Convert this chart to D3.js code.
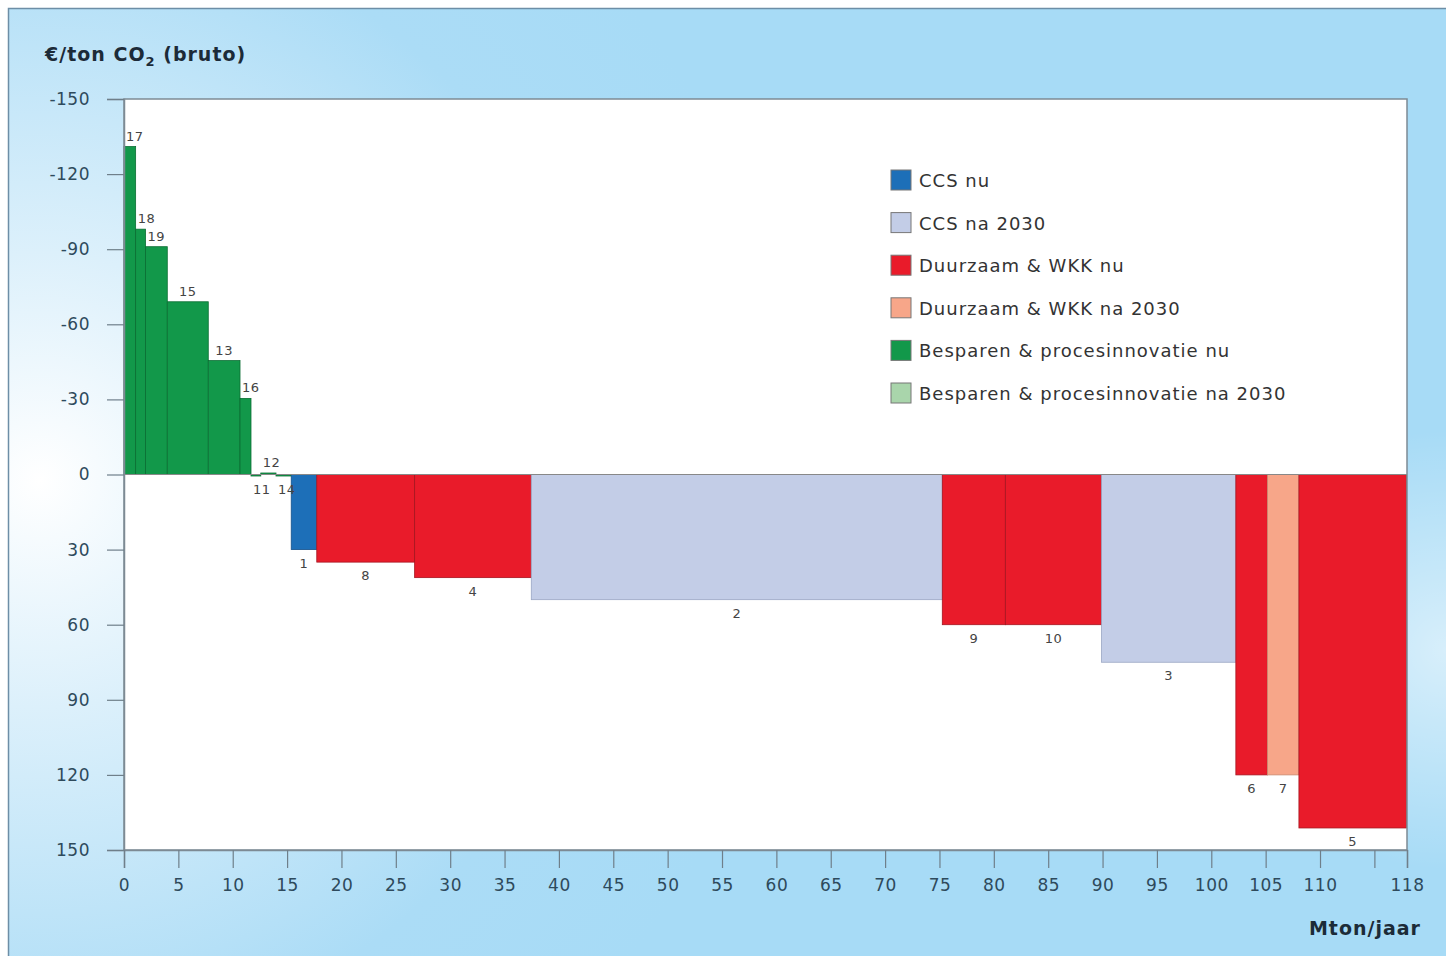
<!DOCTYPE html>
<html><head><meta charset="utf-8">
<script src="https://cdn.jsdelivr.net/npm/d3@7"></script>
<style>
body{margin:0;background:#fff;}
svg{display:block;font-family:"DejaVu Sans",Verdana,sans-serif;}
</style></head>
<body>
<svg id="chart" width="1446" height="956"></svg>
<script>
// ---- data ----
const barIds = ["17","18","19","15","13","16","11","12","14","1","8","4","2","9","10","3","6","7","5"];
const barWidths = [1.07,0.91,2.0,3.77,2.92,1.01,0.9,1.4,1.4,2.35,9.0,10.73,37.8,5.8,8.85,12.35,2.9,2.9,9.9];
const barValues = [-131,-98,-91,-69,-45.5,-30.4,0.6,-0.6,0.6,30,35,41.2,50,60,60,75,120,120,141.2];
const barCategory = [4,4,4,4,4,4,4,4,4,0,2,2,1,2,2,1,2,3,2];
const legendLabels = ["CCS nu","CCS na 2030","Duurzaam & WKK nu","Duurzaam & WKK na 2030","Besparen & procesinnovatie nu","Besparen & procesinnovatie na 2030"];
const yTicks = [-150,-120,-90,-60,-30,0,30,60,90,120,150];
const xTicks = [0,5,10,15,20,25,30,35,40,45,50,55,60,65,70,75,80,85,90,95,100,105,110,115,118];
const xTickLabels = ["0","5","10","15","20","25","30","35","40","45","50","55","60","65","70","75","80","85","90","95","100","105","110","","118"];

// ---- styles ----
const fills = ["#1d6fb8","#c3cde7","#e91b2a","#f7a689","#12984a","#a9d5ab"];
const strokes = ["#17508a","#9aa6c4","#a51520","#c98a70","#0b6e33","#7fa981"];

const svg = d3.select("#chart");
const defs = svg.append("defs");
const g1 = defs.append("radialGradient").attr("id","bg").attr("gradientUnits","userSpaceOnUse")
  .attr("cx",40).attr("cy",480).attr("r",760);
g1.append("stop").attr("offset",0).attr("stop-color","#ffffff");
g1.append("stop").attr("offset",0.3).attr("stop-color","#dcf0fb");
g1.append("stop").attr("offset",0.75).attr("stop-color","#abdcf6");
g1.append("stop").attr("offset",1).attr("stop-color","#a7dbf6");
const g2 = defs.append("radialGradient").attr("id","bg2").attr("gradientUnits","userSpaceOnUse")
  .attr("cx",1446).attr("cy",650).attr("r",220);
g2.append("stop").attr("offset",0).attr("stop-color","#ffffff").attr("stop-opacity",0.55);
g2.append("stop").attr("offset",1).attr("stop-color","#ffffff").attr("stop-opacity",0);

svg.append("rect").attr("x",8).attr("y",8).attr("width",1450).attr("height",960).attr("fill","url(#bg)");
svg.append("rect").attr("x",8).attr("y",8).attr("width",1450).attr("height",960).attr("fill","url(#bg2)");
svg.append("path").attr("d","M8.5,960 V8.5 H1446").attr("fill","none").attr("stroke","#6d8ea6").attr("stroke-width",1.5);

const x = d3.scaleLinear().domain([0,118]).range([124,1407]);
const y = d3.scaleLinear().domain([-150,150]).range([99,850]);

// plot background
svg.append("rect").attr("x",x(0)).attr("y",y(-150)).attr("width",x(118)-x(0)).attr("height",y(150)-y(-150))
  .attr("fill","#ffffff");

// bars
let acc = 0;
const bars = barIds.map((id,i)=>{const b={id,x0:acc,x1:acc+barWidths[i],v:barValues[i],c:barCategory[i]};acc+=barWidths[i];return b;});

svg.append("g").selectAll("rect").data(bars).join("rect")
  .attr("x",d=>x(d.x0)).attr("width",d=>x(d.x1)-x(d.x0))
  .attr("y",d=>Math.min(y(0),y(d.v))).attr("height",d=>Math.abs(y(d.v)-y(0)))
  .attr("fill",d=>fills[d.c]).attr("stroke",d=>strokes[d.c]).attr("stroke-width",0.8);

// bar labels
svg.append("g").selectAll("text").data(bars).join("text")
  .attr("x",d=> (x(d.x1)-x(d.x0) < 22) ? x(d.x0)+2 : (x(d.x0)+x(d.x1))/2)
  .attr("text-anchor",d=> (x(d.x1)-x(d.x0) < 22) ? "start" : "middle")
  .attr("y",d=> d.v<0 ? y(d.v)-6 : y(d.v)+18)
  .attr("font-size",13).attr("letter-spacing",0.5).attr("fill","#444")
  .text(d=>d.id);

// plot frame
svg.append("rect").attr("x",x(0)).attr("y",y(-150)).attr("width",x(118)-x(0)).attr("height",y(150)-y(-150))
  .attr("fill","none").attr("stroke","#7d8a94").attr("stroke-width",1.5);
svg.append("line").attr("x1",x(0)).attr("x2",x(118)).attr("y1",y(0)).attr("y2",y(0)).attr("stroke","#888").attr("stroke-width",1);

// axes
const yAxis = svg.append("g").attr("transform",`translate(${x(0)},0)`)
  .call(d3.axisLeft(y).tickValues(yTicks).tickSize(17).tickPadding(17).tickFormat(d=>String(d)));
const xAxis = svg.append("g").attr("transform",`translate(0,${y(150)})`)
  .call(d3.axisBottom(x).tickValues(xTicks).tickSize(18).tickPadding(11).tickFormat((d,i)=>xTickLabels[i]));
[yAxis,xAxis].forEach(a=>{
  a.select(".domain").attr("stroke","#7d8a94").attr("stroke-width",1.5);
  a.selectAll(".tick line").attr("stroke","#6f7f8a").attr("stroke-width",1.2);
  a.selectAll(".tick text").attr("font-family","'DejaVu Sans',Verdana,sans-serif").attr("font-size",17).attr("letter-spacing",0.5).attr("fill","#2e4a5c");
});

// titles
const t = svg.append("text").attr("x",45).attr("y",61).attr("font-size",19).attr("letter-spacing",1).attr("font-weight","bold").attr("fill","#1c2b38");
t.append("tspan").text("€/ton CO");
t.append("tspan").attr("font-size",13).attr("dy",5).text("2");
t.append("tspan").attr("dy",-5).text(" (bruto)");
svg.append("text").attr("x",1421).attr("y",935).attr("text-anchor","end").attr("font-size",19).attr("letter-spacing",1).attr("font-weight","bold").attr("fill","#1c2b38").text("Mton/jaar");

// legend
const lg = svg.append("g").selectAll("g").data(legendLabels).join("g")
  .attr("transform",(d,i)=>`translate(891,${170+i*42.6})`);
lg.append("rect").attr("width",20).attr("height",20).attr("fill",(d,i)=>fills[i]).attr("stroke","#777").attr("stroke-width",1);
lg.append("text").attr("x",28).attr("y",17).attr("font-size",18).attr("letter-spacing",1).attr("fill","#333").text(d=>d);
</script>
</body></html>
